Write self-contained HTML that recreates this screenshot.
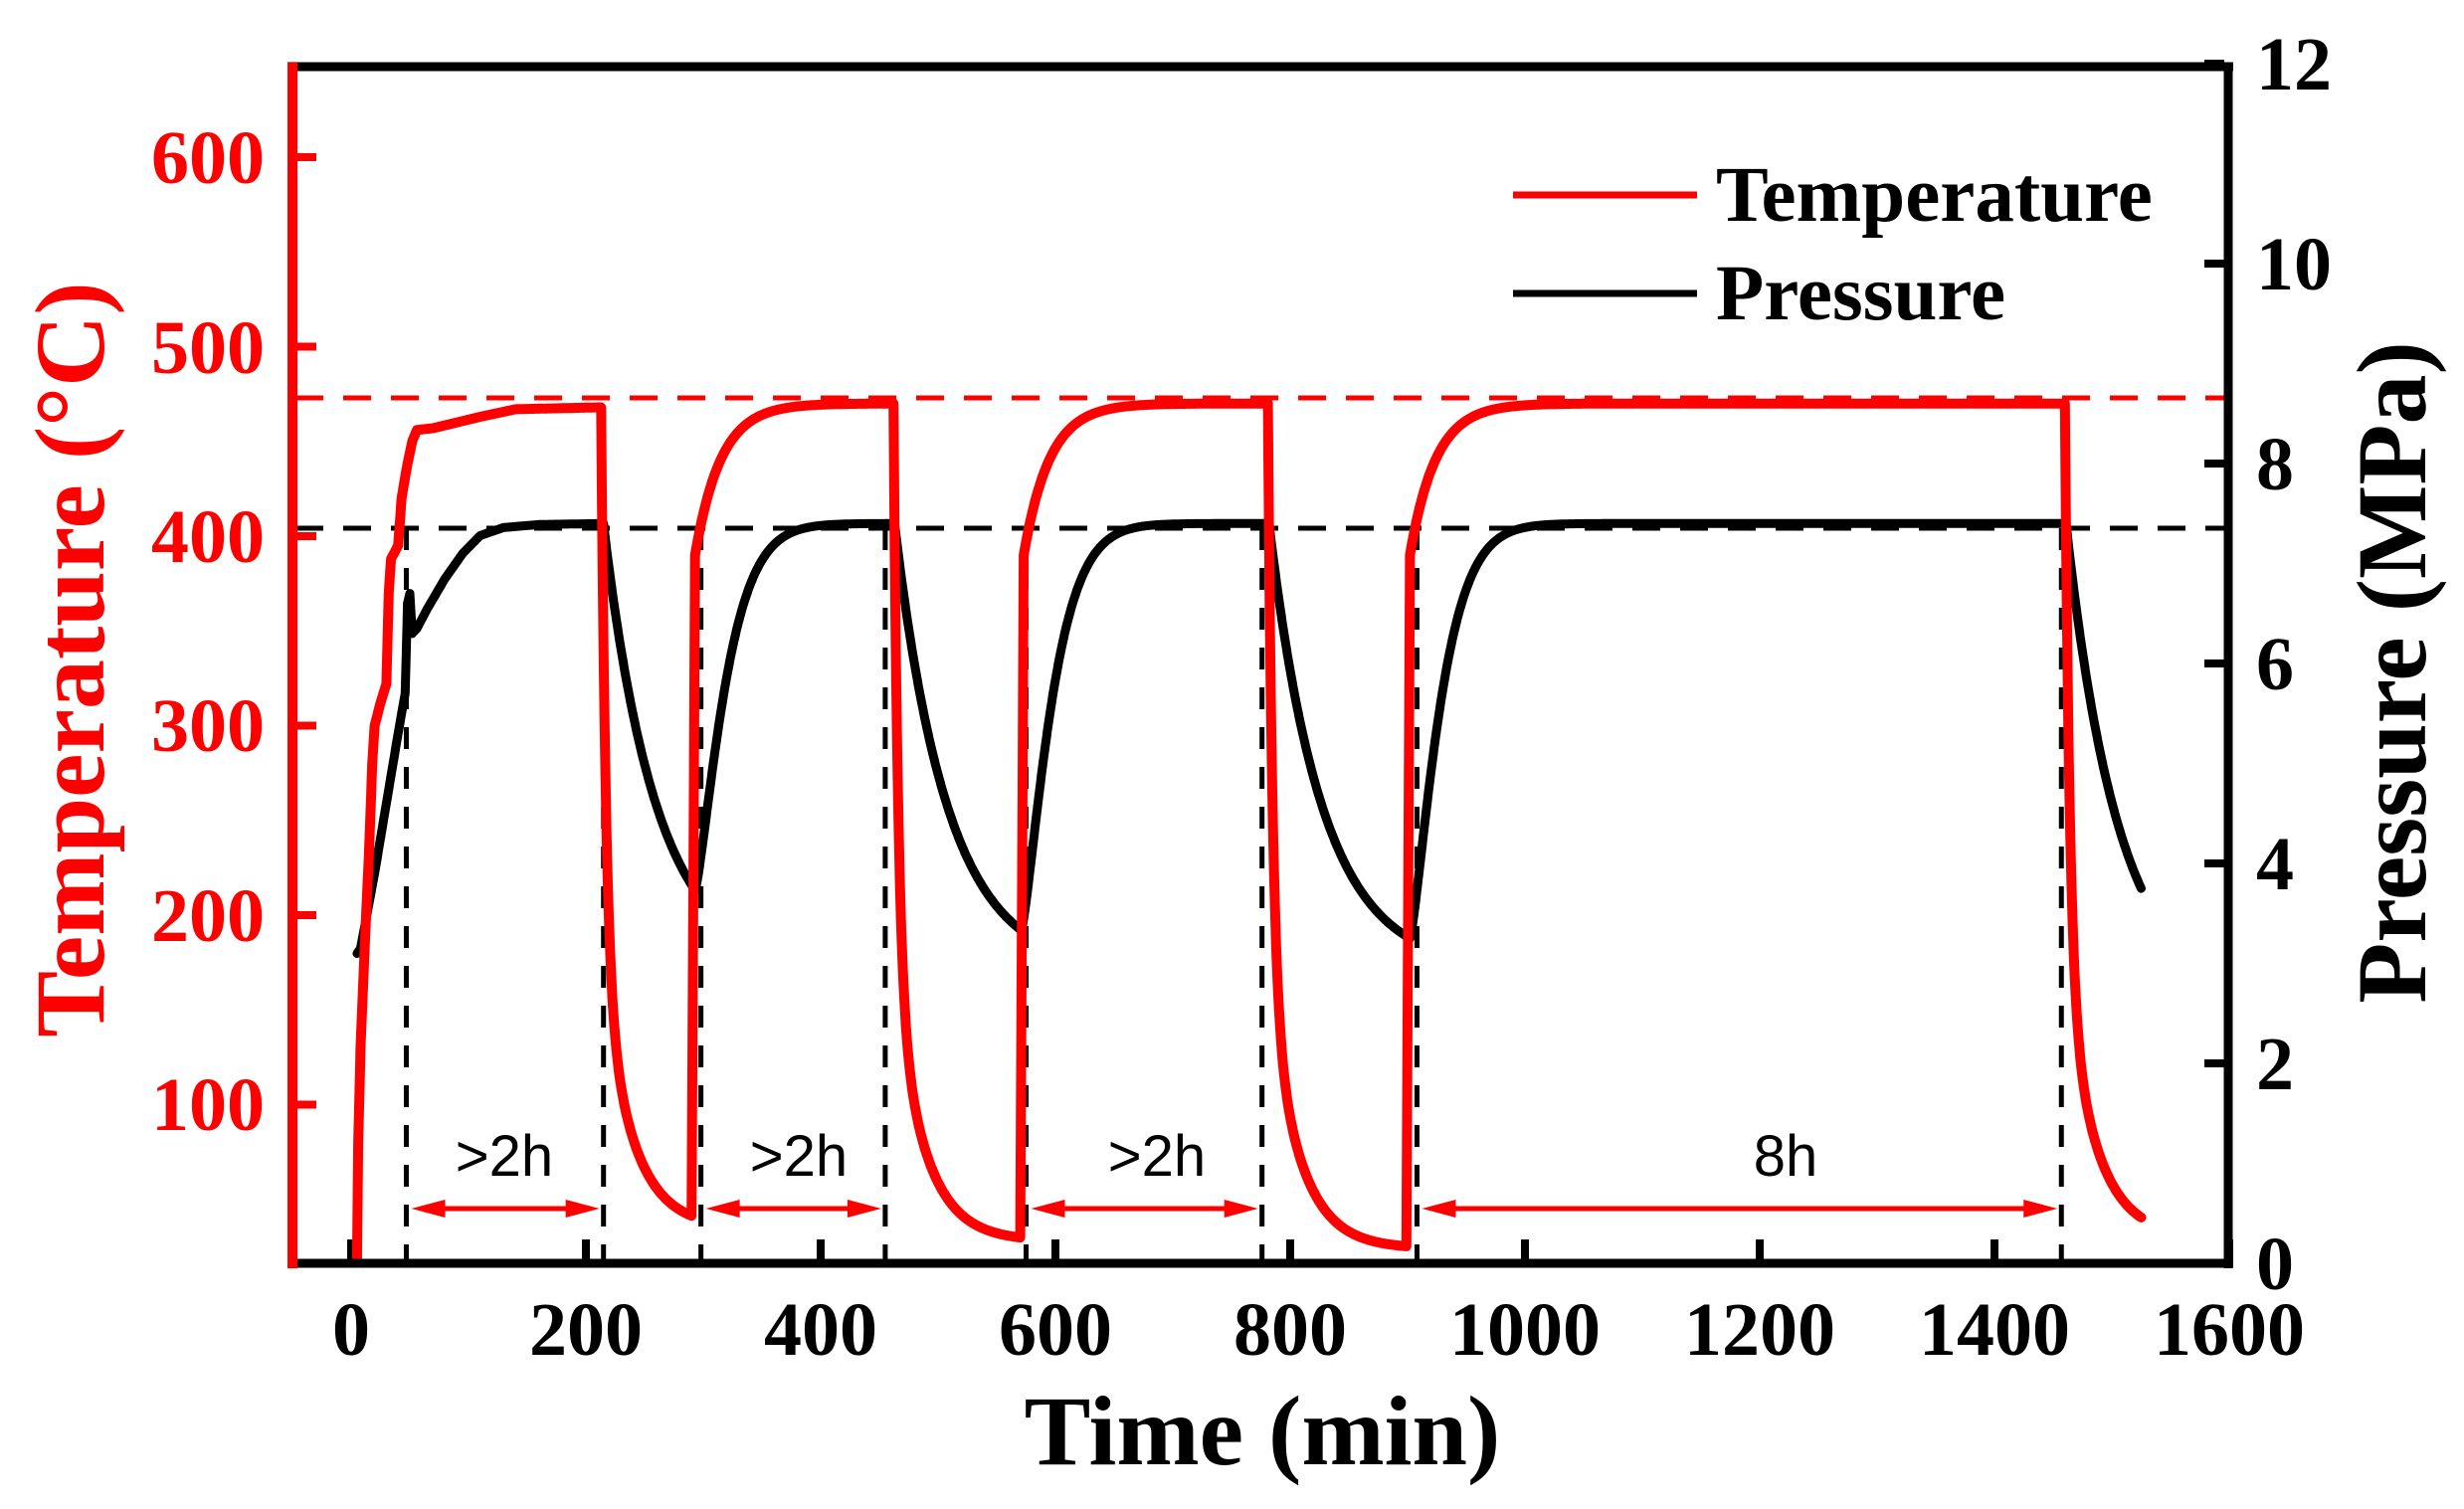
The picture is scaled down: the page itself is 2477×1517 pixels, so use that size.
<!DOCTYPE html>
<html><head><meta charset="utf-8"><style>
html,body{margin:0;padding:0;background:#fff;}
svg{display:block;}
text{font-family:"Liberation Serif",serif;font-weight:bold;}
.s{font-family:"Liberation Sans",sans-serif;font-weight:normal;}
</style></head><body>
<svg id="c" width="2477" height="1517" viewBox="0 0 2477 1517" xmlns="http://www.w3.org/2000/svg">
<rect width="2477" height="1517" fill="#fff"/>
<g id="dyn"></g>
<line x1="289" y1="67" x2="2245" y2="67" stroke="#000" stroke-width="9"/>
<line x1="2240" y1="63" x2="2240" y2="1275" stroke="#000" stroke-width="9"/>
<line x1="289" y1="1270" x2="2245" y2="1270" stroke="#000" stroke-width="9"/>
<line x1="294" y1="63" x2="294" y2="1275" stroke="#f00" stroke-width="10"/>
<g font-size="76" fill="#f00" text-anchor="end">
<text x="266" y="184">600</text><text x="266" y="375">500</text><text x="266" y="565">400</text>
<text x="266" y="755">300</text><text x="266" y="946">200</text><text x="266" y="1136">100</text>
</g>
<g font-size="76" fill="#000" text-anchor="middle">
<text x="353" y="1362">0</text><text x="589" y="1362">200</text><text x="825" y="1362">400</text>
<text x="1061" y="1362">600</text><text x="1297" y="1362">800</text><text x="1533" y="1362">1000</text>
<text x="1769" y="1362">1200</text><text x="2005" y="1362">1400</text><text x="2241" y="1362">1600</text>
</g>
<g font-size="76" fill="#000">
<text x="2268" y="1296">0</text><text x="2268" y="1095">2</text><text x="2268" y="894">4</text>
<text x="2268" y="693">6</text><text x="2268" y="492">8</text><text x="2268" y="291">10</text><text x="2268" y="90">12</text>
</g>
<text x="1269" y="1472" font-size="100" text-anchor="middle" fill="#000">Time (min)</text>
<text transform="translate(104,663) rotate(-90)" font-size="100" text-anchor="middle" fill="#f00">Temperature (°C)</text>
<text transform="translate(2438,676) rotate(-90)" font-size="100" text-anchor="middle" fill="#000">Pressure (MPa)</text>
<line x1="1521" y1="196" x2="1706" y2="196" stroke="#f00" stroke-width="7"/>
<text x="1725" y="222" font-size="79" fill="#000">Temperature</text>
<line x1="1521" y1="295" x2="1706" y2="295" stroke="#000" stroke-width="7"/>
<text x="1725" y="321" font-size="79" fill="#000">Pressure</text>
</svg>
<script>
(function(){
var NS="http://www.w3.org/2000/svg",g=document.getElementById('dyn');
function X(t){return 353+t*1.18;}
function YT(T){return 539-(T-400)*1.905;}
function YP(P){return 1270-P*100.5;}
function el(n,a){var e=document.createElementNS(NS,n);for(var k in a)e.setAttribute(k,a[k]);g.appendChild(e);return e;}
function interp(L,t){for(var i=1;i<L.length;i++){if(t<=L[i][0]){var a=L[i-1],b=L[i];return a[1]+(b[1]-a[1])*(t-a[0])/(b[0]-a[0]);}}return L[L.length-1][1];}
el('line',{x1:297,y1:400,x2:2240,y2:400,stroke:'#f00','stroke-width':5,'stroke-dasharray':'28 20'});
el('line',{x1:297,y1:531,x2:2240,y2:531,stroke:'#000','stroke-width':5,'stroke-dasharray':'28 20'});
[47,215,298,455,575,776,908,1457].forEach(function(t){el('line',{x1:X(t),y1:531,x2:X(t),y2:1272,stroke:'#000','stroke-width':5,'stroke-dasharray':'22 18'});});
for(var v=0;v<=1600;v+=200)el('line',{x1:X(v),y1:1266,x2:X(v),y2:1246,stroke:'#000','stroke-width':8});
for(var T=100;T<=600;T+=100)el('line',{x1:298,y1:YT(T),x2:318,y2:YT(T),stroke:'#f00','stroke-width':8});
for(var P=0;P<=12;P+=2)el('line',{x1:2236,y1:YP(P),x2:2216,y2:YP(P),stroke:'#000','stroke-width':8});
var Lt=[[5,18],[6,80],[8,130],[12,190],[15,230],[18,280],[20,300],[25,312],[30,322],[32,370],[34,388],[40,395],[43,420],[47,435],[52,450],[56,456],[70,457],[90,460],[110,463],[140,467],[213,468]];
var drops=[[213,468,35],[462,470,28],[781,470,24],[1460,470,30]],rises=[[290,470],[570,470],[899,470]];
function ev(t){
 var e=[];drops.forEach(function(d){e.push(['d',d]);});rises.forEach(function(r){e.push(['r',r]);});
 e.sort(function(a,b){return a[1][0]-b[1][0];});
 var last=null;for(var i=0;i<e.length;i++){if(e[i][1][0]<=t)last=e[i];}
 return last;
}
var pts=[],t;
for(t=5;t<=1525;t+=0.5){
 var y;
 if(t<=213){y=interp(Lt,t);}
 else{
  var e=ev(t),d=e[1],dt=t-d[0];
  if(e[0]=='d'){var f=d[2];y=f+(d[1]-f)*(0.68*Math.exp(-dt/4)+0.32*Math.exp(-dt/25));}
  else{
   var pd0=null;drops.forEach(function(q){if(q[0]<d[0])pd0=q;});
   var dd=d[0]-pd0[0],T0=pd0[2]+(pd0[1]-pd0[2])*(0.68*Math.exp(-dd/4)+0.32*Math.exp(-dd/25));
   if(dt<3)y=T0+(390-T0)*dt/3;else y=470-80*Math.exp(-(dt-3)/22);
  }
 }
 pts.push(X(t).toFixed(1)+','+YT(y).toFixed(1));
}
var PL=7.40;
var Lp=[[5,3.1],[8,3.15],[12,3.4],[20,3.9],[30,4.6],[40,5.3],[46,5.7],[48,6.6],[50,6.7],[52,6.3],[56,6.35],[65,6.55],[80,6.85],[95,7.1],[110,7.28],[130,7.36],[160,7.39],[215,7.40]];
var pd=[[215,293,3.73],[463,571,3.33],[782,902,3.25]],pr=[[293,3.73,463],[571,3.33,782],[902,3.25,1461]];
var tau=45;
function press(t){
 if(t<=215)return interp(Lp,t);
 for(var i=0;i<pd.length;i++){var d=pd[i];if(t>=d[0]&&t<=d[1]){var e=Math.exp(-(d[1]-d[0])/tau),a=(d[2]-PL*e)/(1-e);return a+(PL-a)*Math.exp(-(t-d[0])/tau);}}
 for(i=0;i<pr.length;i++){var r=pr[i];if(t>r[0]&&t<r[2]){var dt=t-r[0];return r[1]+(PL-r[1])*(1-Math.exp(-Math.pow(dt/30,1.3)));}}
 var e2=Math.exp(-(1525-1461)/tau),a2=(3.75-PL*e2)/(1-e2);return a2+(PL-a2)*Math.exp(-(t-1461)/tau);
}
var pp=[];
for(t=5;t<=1525;t+=0.5)pp.push(X(t).toFixed(1)+','+YP(press(t)).toFixed(1));
el('polyline',{points:pp.join(' '),fill:'none',stroke:'#000','stroke-width':9,'stroke-linejoin':'round','stroke-linecap':'round'});
el('polyline',{points:pts.join(' '),fill:'none',stroke:'#f00','stroke-width':10,'stroke-linejoin':'round','stroke-linecap':'round'});
function arrow(t1,t2,lbl,lx){
 var x1=X(t1)+5,x2=X(t2)-4,y=1215;
 el('line',{x1:x1+30,y1:y,x2:x2-30,y2:y,stroke:'#f00','stroke-width':5});
 el('polygon',{points:(x2)+','+y+' '+(x2-34)+','+(y-9)+' '+(x2-34)+','+(y+9),fill:'#f00'});
 el('polygon',{points:(x1)+','+y+' '+(x1+34)+','+(y-9)+' '+(x1+34)+','+(y+9),fill:'#f00'});
 var tx=el('text',{x:lx,y:1182,'font-size':58,'text-anchor':'middle',fill:'#000','class':'s'});tx.textContent=lbl;
}
arrow(47,215,'>2h',507);arrow(298,455,'>2h',803);arrow(575,776,'>2h',1163);arrow(908,1457,'8h',1795);
})();
</script>
</body></html>
